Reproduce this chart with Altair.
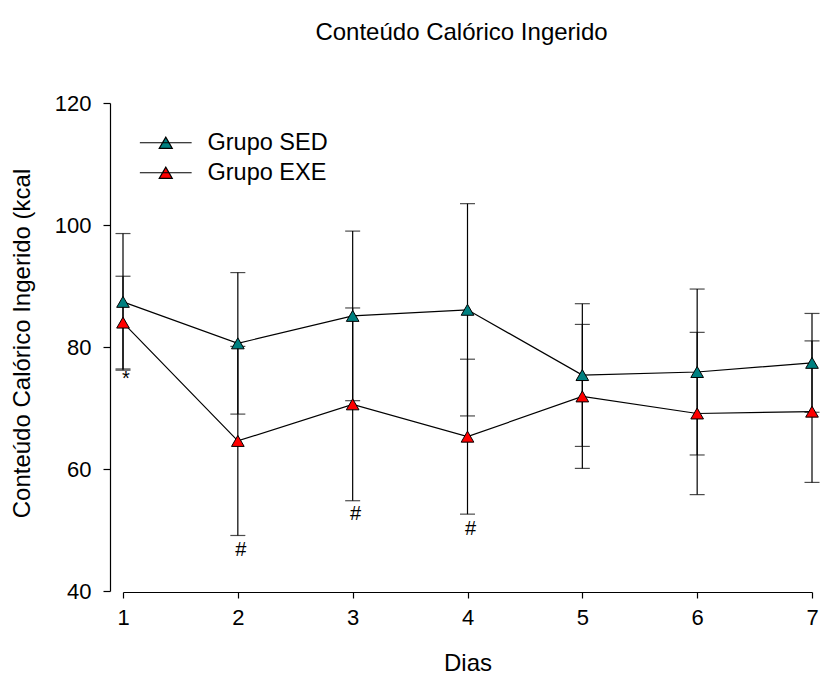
import altair as alt
import pandas as pd

days = [1, 2, 3, 4, 5, 6, 7]
groups = ["Grupo SED", "Grupo EXE"]
colors = ["#008080", "#ff0000"]
sed_mean = [87.4, 80.6, 85.1, 86.1, 75.4, 75.9, 77.4]
sed_sd = [11.2, 11.6, 13.9, 17.4, 11.7, 13.6, 8.1]
exe_mean = [84.0, 64.6, 70.6, 65.3, 71.9, 69.1, 69.4]
exe_sd = [7.6, 15.5, 15.8, 12.7, 11.8, 13.3, 11.6]

note_days = [1, 2, 3, 4]
note_text = ["*", "#", "#", "#"]
note_y = [74.7, 46.8, 52.7, 50.2]

y_ticks = [40, 60, 80, 100, 120]

rows = []
for g, means, sds in [(groups[0], sed_mean, sed_sd), (groups[1], exe_mean, exe_sd)]:
    for d, m, s in zip(days, means, sds):
        rows.append({"group": g, "day": d, "mean": m, "lo": m - s, "hi": m + s})
df = pd.DataFrame(rows)
notes = pd.DataFrame({"day": note_days, "txt": note_text, "y": note_y})

FONT = "Liberation Sans"
XT = "Dias"
YT = "Conteúdo Calórico Ingerido (kcal"

xs = alt.Scale(domain=[1, 7], nice=False, zero=False)
ys = alt.Scale(domain=[40, 120], nice=False, zero=False)

x_axis = alt.Axis(values=days, format="d", offset=1, tickSize=6, labelPadding=9,
                  titlePadding=23, labelFlush=False, grid=False)
y_axis = alt.Axis(values=y_ticks, format="d", offset=13, tickSize=7, labelPadding=12,
                  titlePadding=20, titleY=240, grid=False)


def X():
    return alt.X("day:Q", scale=xs, axis=x_axis, title=XT)


def Y(field):
    return alt.Y(field, scale=ys, axis=y_axis, title=YT)


base = alt.Chart(df)

bars = base.mark_rule(color="black", strokeWidth=1.2).encode(
    x=X(), y=Y("lo:Q"), y2="hi:Q"
)
cap_hi = base.mark_tick(orient="horizontal", size=15, thickness=1.2, color="black").encode(
    x=X(), y=Y("hi:Q")
)
cap_lo = base.mark_tick(orient="horizontal", size=15, thickness=1.2, color="black").encode(
    x=X(), y=Y("lo:Q")
)
lines = base.mark_line(color="black", strokeWidth=1.2).encode(
    x=X(), y=Y("mean:Q"), detail="group:N"
)
legend_path = "M-3.7,0H3.7M0,-0.8L0.93,0.8L-0.93,0.8Z"
points = base.mark_point(shape="triangle-up", filled=True, size=160, stroke="black",
                         strokeWidth=1, opacity=1).encode(
    x=X(), y=Y("mean:Q"),
    fill=alt.Fill("group:N", scale=alt.Scale(domain=groups, range=colors),
                  legend=alt.Legend(title=None, orient="none", legendX=31, legendY=28,
                                    symbolType=legend_path, symbolSize=196,
                                    symbolStrokeColor="black", symbolStrokeWidth=1.2,
                                    labelFontSize=23.5, labelFont=FONT, labelColor="black",
                                    labelOffset=30, rowPadding=5, padding=0))
)
texts = alt.Chart(notes).mark_text(fontSize=20, font=FONT, color="black", dx=3,
                                   baseline="middle").encode(
    x=X(), y=Y("y:Q"), text="txt:N"
)

chart = alt.layer(bars, cap_hi, cap_lo, lines, points, texts).properties(
    width=689, height=488,
    background="white",
    autosize=alt.AutoSizeParams(type="none"),
    padding={"left": 123, "top": 103, "right": 9, "bottom": 84},
    title=alt.TitleParams("Conteúdo Calórico Ingerido", fontSize=24, font=FONT,
                          fontWeight="normal", anchor="middle", offset=47, dx=-6,
                          color="black"),
).configure_view(stroke=None).configure_axis(
    grid=False, domainColor="black", tickColor="black", domainWidth=1.2, tickWidth=1.2,
    labelFont=FONT, titleFont=FONT, labelFontSize=22, titleFontSize=24,
    labelColor="black", titleColor="black", titleFontWeight="normal",
    labelOverlap=False, labelBound=False
)

chart.save("out.html", embed_options={"renderer": "svg", "actions": False})
